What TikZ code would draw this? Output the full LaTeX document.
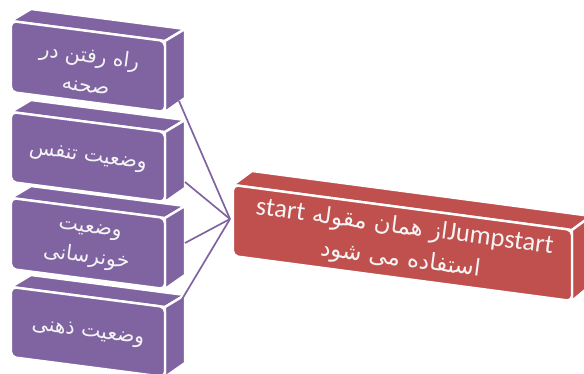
\documentclass[tikz,border=0pt]{standalone}
\usepackage{fontspec}
\usetikzlibrary{calc}
\TeXXeTstate=1
\newfontfamily\arabicfont[Script=Arabic]{DejaVu Sans}
\newfontfamily\latinfont[Scale=1.15]{Carlito}
\definecolor{boxpurple}{HTML}{8064A2}
\definecolor{boxred}{HTML}{C0504D}
\definecolor{txtwhite}{HTML}{F4F4F4}
\newcommand{\drawcube}[9]{%
  \coordinate (#1-tl) at (#3,#4);
  \coordinate (#1-tr) at (#3+#5,#4+#7);
  \coordinate (#1-br) at (#3+#5,#4+#7+#6);
  \coordinate (#1-bl) at (#3,#4+#6);
  \filldraw[facestyle,fill=#2] (#1-tl) -- ++(#8,#9) -- ($(#1-tr)+(#8,#9)$) -- (#1-tr) -- cycle;
  \filldraw[facestyle,fill=#2] (#1-tr) -- ++(#8,#9) -- ($(#1-br)+(#8,#9-2)$) -- (#1-br) -- cycle;
  \filldraw[facestyle,fill=#2,rounded corners=5pt] (#1-tl) -- (#1-tr) -- (#1-br) -- (#1-bl) -- cycle;
}
\begin{document}
\begin{tikzpicture}[x=1pt,y=-1pt,
  facestyle/.style={draw=white,line width=2.4pt,line join=round},
  txt/.style={text=txtwhite,font=\arabicfont\fontsize{20.5}{30}\selectfont,align=center,rotate=-7.5,inner sep=0pt},
  redtxt/.style={text=txtwhite,font=\arabicfont\fontsize{23}{32}\selectfont,align=center,rotate=-7.6,inner sep=0pt},
  conn/.style={draw=boxpurple,line width=1.7pt}]
\useasboundingbox (0,0) rectangle (584,374);
\drawcube{b4}{boxpurple}{11}{287}{154}{70}{20}{20}{-12}
\drawcube{b3}{boxpurple}{11}{198}{154}{71}{20}{20}{-12}
\drawcube{b2}{boxpurple}{11}{112}{154}{70}{20}{20}{-12}
\drawcube{b1}{boxpurple}{11}{21}{154}{71}{20}{20}{-12}
\node[txt] (t1) at ($(b1-tl)!0.5!(b1-br)+(0,3)$) {\beginR راه رفتن در\endR\\\beginR صحنه\endR};
\node[txt] (t2) at ($(b2-tl)!0.5!(b2-br)+(0,1)$) {\beginR وضعیت تنفس\endR};
\node[txt] (t3) at ($(b3-tl)!0.5!(b3-br)+(0,2)$) {\beginR وضعیت\endR\\\beginR خونرسانی\endR};
\node[txt] (t4) at ($(b4-tl)!0.5!(b4-br)+(0,1)$) {\beginR وضعیت ذهنی\endR};
\coordinate (c1) at (179,101);
\coordinate (c2) at (185,182);
\coordinate (c3) at (185,243);
\coordinate (c4) at (178,306);
\coordinate (hub) at (230,219);
\draw[conn] (c1) -- (hub);
\draw[conn] (c2) -- (hub);
\draw[conn] (c3) -- (hub);
\draw[conn] (c4) -- (hub);
\drawcube{r}{boxred}{233}{185}{339}{71}{45}{19}{-14}
\node[redtxt] (rt) at ($(r-tl)!0.5!(r-br)+(0,1)$) {\beginR{\latinfont Jumpstart}از همان مقوله {\latinfont start}\endR\\\beginR استفاده می شود\endR};
\end{tikzpicture}
\end{document}
